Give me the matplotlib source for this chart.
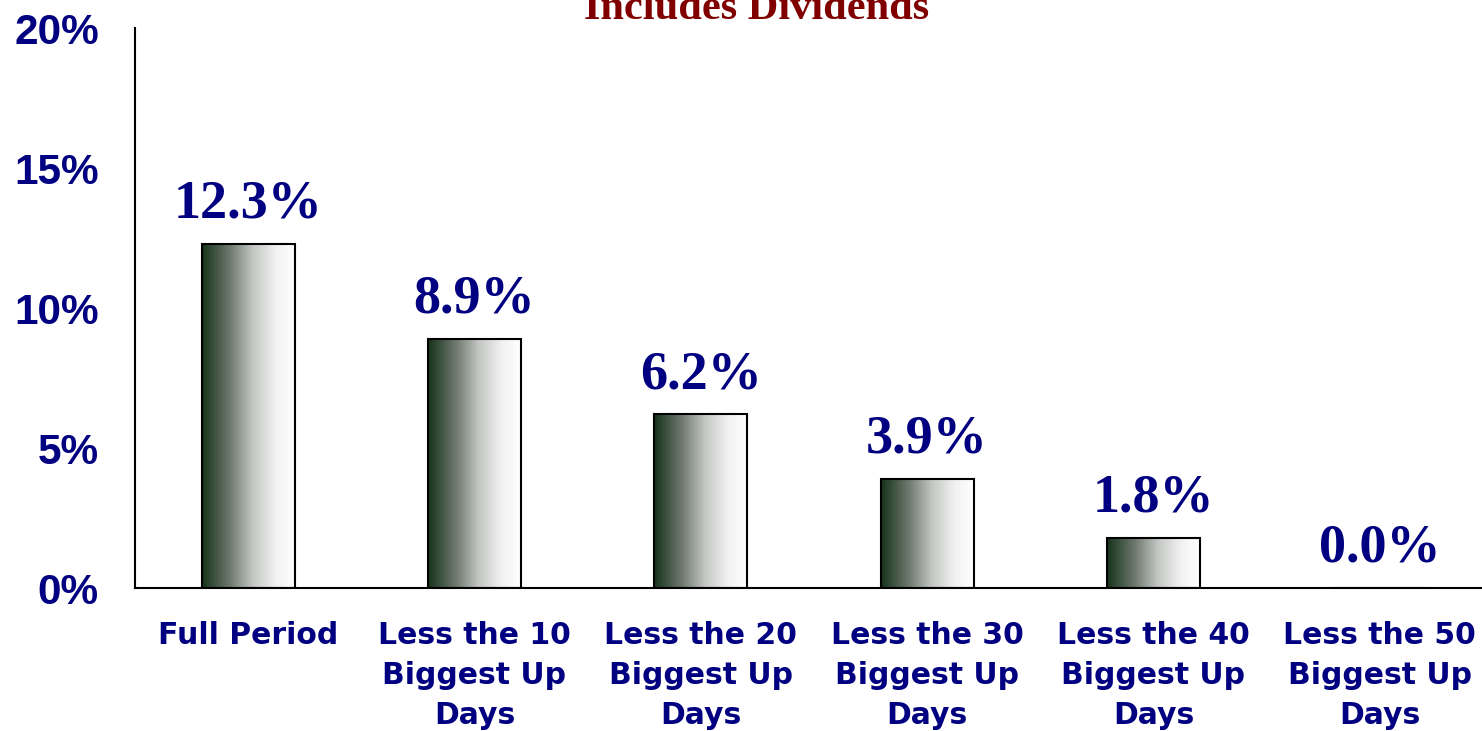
import matplotlib
matplotlib.use("Agg")
import matplotlib.pyplot as plt
import numpy as np
from matplotlib.colors import LinearSegmentedColormap

categories = ["Full Period",
              "Less the 10\nBiggest Up\nDays",
              "Less the 20\nBiggest Up\nDays",
              "Less the 30\nBiggest Up\nDays",
              "Less the 40\nBiggest Up\nDays",
              "Less the 50\nBiggest Up\nDays"]
values = [12.3, 8.9, 6.2, 3.9, 1.8, 0.0]
labels = ["12.3%", "8.9%", "6.2%", "3.9%", "1.8%", "0.0%"]
yticks = [0, 5, 10, 15, 20]
ytick_labels = ["0%", "5%", "10%", "15%", "20%"]
title = "Includes Dividends"

navy = "#000080"
fig = plt.figure(figsize=(14.82, 7.31), dpi=100)
ax = fig.add_axes([135/1482, 1-588/731, 1358/1482, (588-28)/731])

x = np.arange(len(categories))
bars = ax.bar(x, values, width=0.41, facecolor="none", edgecolor="black", linewidth=1.5, zorder=3)

cmap = LinearSegmentedColormap.from_list("g", [(0, "#15331a"), (0.3, "#6f786f"),
                                               (0.55, "#c4c7c4"), (0.8, "#f2f2f2"), (1.0, "#ffffff")])
grad = np.linspace(0, 1, 256).reshape(1, -1)
for b in bars:
    h = b.get_height()
    if h <= 0:
        continue
    ax.imshow(grad, cmap=cmap, aspect="auto", interpolation="bilinear",
              extent=(b.get_x(), b.get_x() + b.get_width(), 0, h), zorder=2)

for xi, v, lab in zip(x, values, labels):
    ax.annotate(lab, (xi, v), xytext=(0, 19), textcoords="offset points",
                ha="center", va="baseline", fontsize=39, fontweight="bold",
                family="Liberation Serif", color=navy)

ax.set_xlim(-0.5, len(categories) - 0.5)
ax.set_ylim(0, 20)
ax.set_yticks(yticks)
ax.set_yticklabels(ytick_labels, fontsize=30.5, fontweight="bold", family="Liberation Sans", color=navy)
ax.set_xticks(x)
ax.set_xticklabels(categories, fontsize=21.5, fontweight="bold", family="DejaVu Sans",
                   color=navy, linespacing=1.48, va="top")
ax.tick_params(axis="y", length=0, pad=26)
ax.tick_params(axis="x", length=0, pad=24)
for s in ["top", "right"]:
    ax.spines[s].set_visible(False)
for s in ["left", "bottom"]:
    ax.spines[s].set_linewidth(1.5)
    ax.spines[s].set_color("black")

fig.text(757/1482, 1-19/731, title, ha="center", va="baseline", fontsize=30.5,
         fontweight="bold", family="Liberation Serif", color="#800000")

fig.savefig("out.png", dpi=100)
